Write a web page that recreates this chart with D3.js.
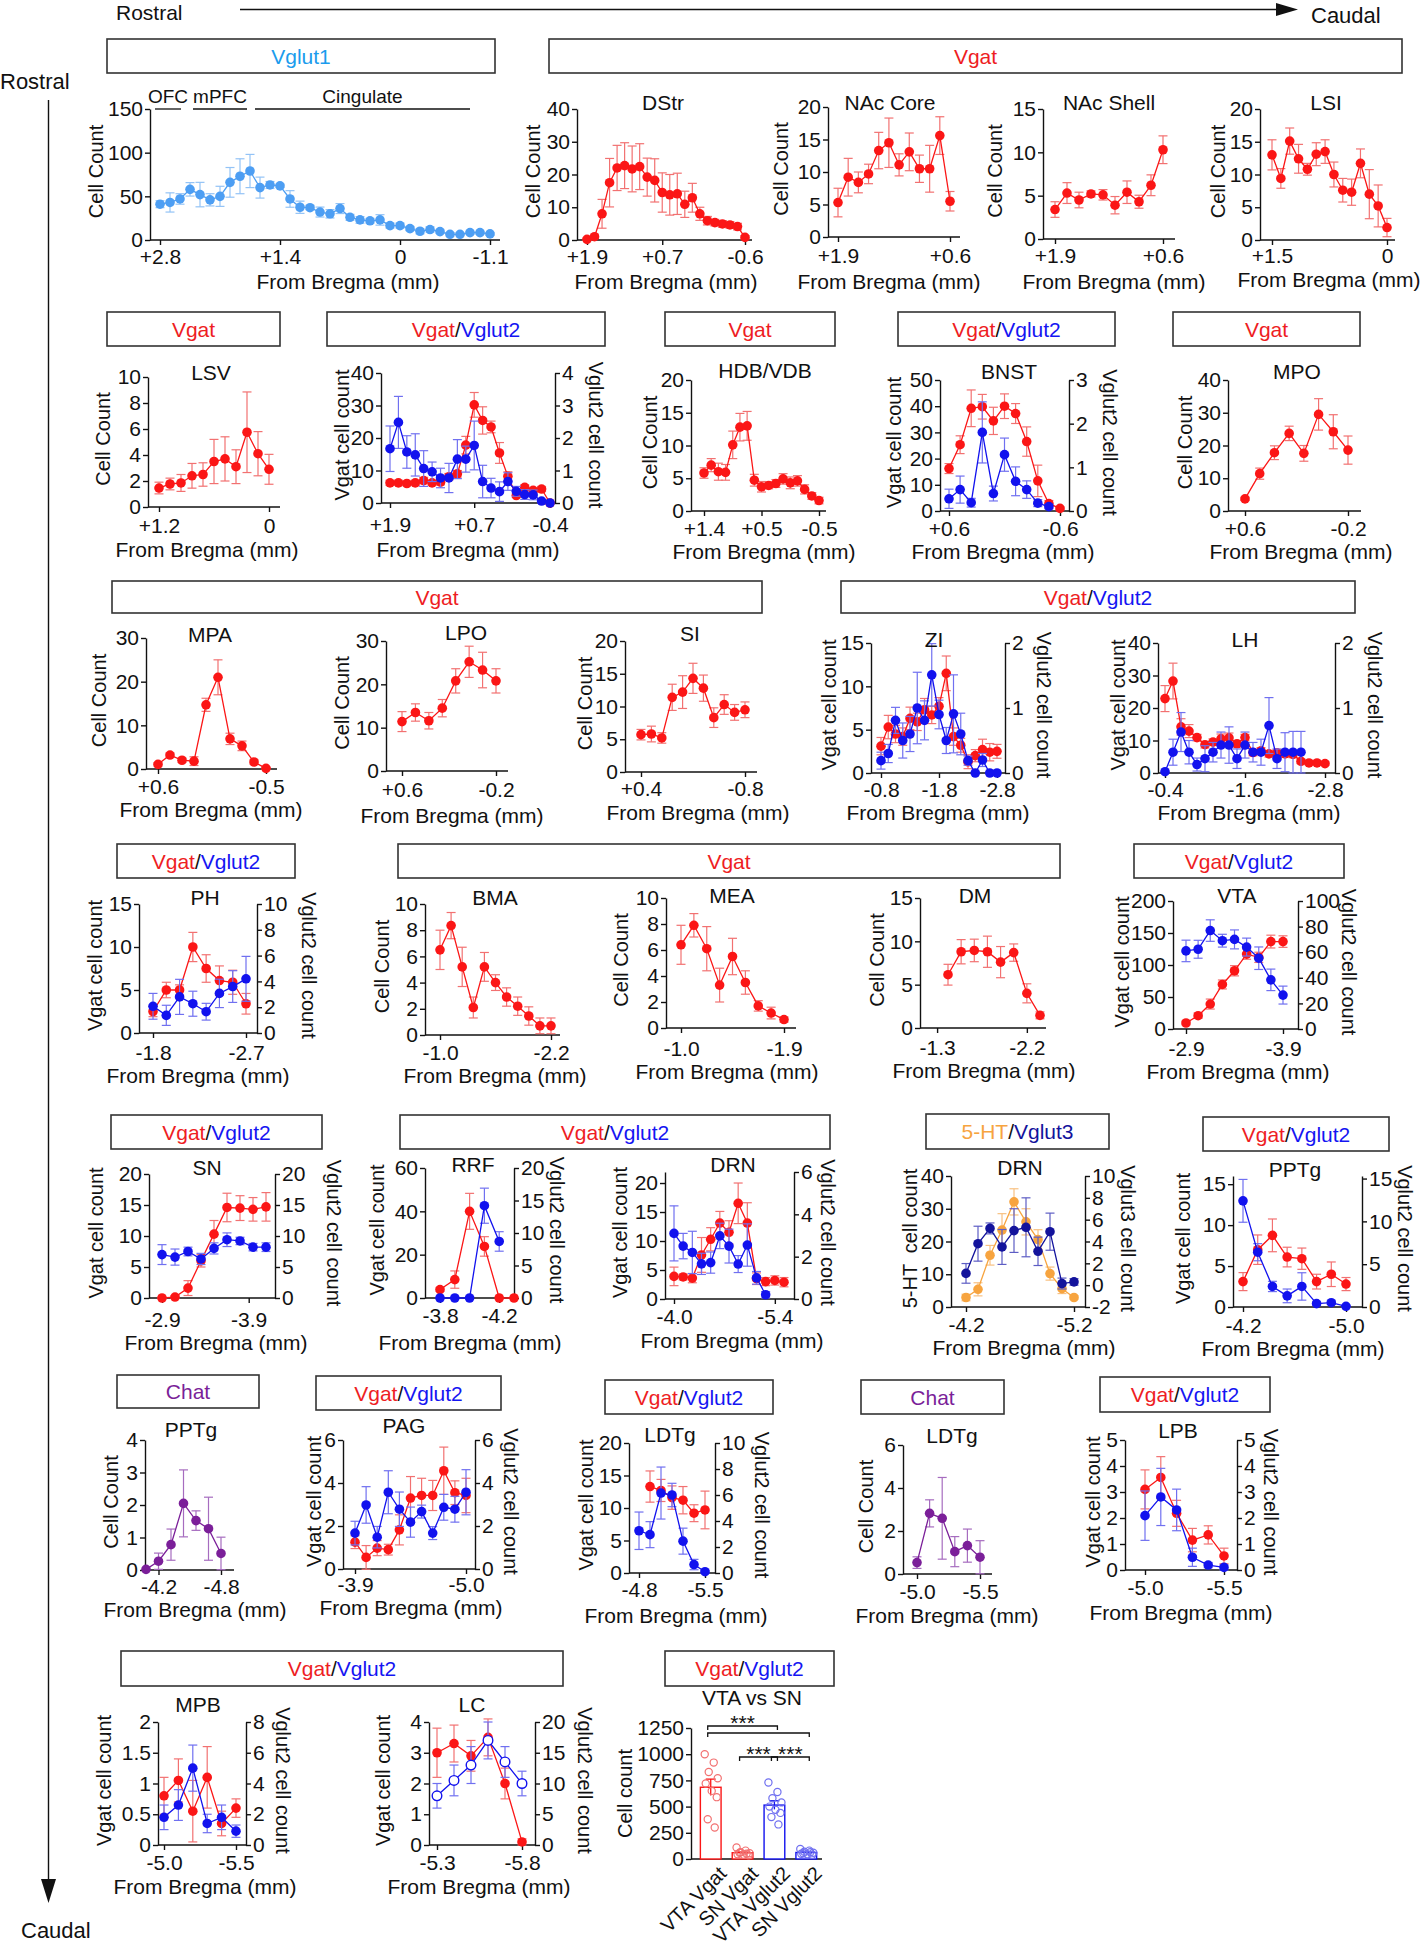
<!DOCTYPE html>
<html><head><meta charset="utf-8">
<script src="https://cdn.jsdelivr.net/npm/d3@7"></script>
<style>
body{margin:0;background:#fff}
svg{display:block}
text{font-family:"Liberation Sans",Arial,Helvetica,sans-serif;white-space:pre}
</style>
</head><body><script>
// ================= DATA (mean, SEM) =================
// Row 1
const vglut1CortexMean=[41,43,47,58,52,46,50,66,73,79,60,63,62,47,37.5,37,32,30,36,26,23,22,23,16.5,16.5,13,10,12,9.6,6.5,6.5,8.4,8.4,7];
const vglut1CortexSem=[4,11,6,7.7,14,7,11.5,17,20,19,12,4,2,9.5,7,2.3,5.7,4.8,5.7,3.4,3.8,2.8,6,2.8,2.8,2.3,2.9,3,1.9,1.9,1.5,1.5,1.5,1.5];
const vglut1Regions=[{name:"OFC",from:-0.5,to:2.1},{name:"mPFC",from:3.3,to:8.7},{name:"Cingulate",from:9.5,to:31}];
const dstrVgat=[0.2,1,8,17.5,22,22.7,21.7,22.4,19.2,18.2,14.5,13.8,14.1,10.9,12.9,8,5.9,5.3,4.9,4.6,4.1,0.8];
const dstrVgatSem=[0.3,0.5,4.4,7.4,6.9,7,7,7,5.8,6.6,6,6.2,6.3,4,4.4,2,1.3,1,1,1,1,0.5];
const nacCoreVgat=[5.3,9.2,8.4,9.7,13.3,14.5,11.1,13.1,10.5,10.5,15.6,5.5];
const nacCoreVgatSem=[2.2,2.9,1.6,1.5,2.8,3.8,1.7,2.9,2.1,3.6,2.9,1.5];
const nacShellVgat=[3.4,5.3,4.5,5.2,5.1,3.9,5.4,4.3,6.2,10.3];
const nacShellVgatSem=[0.9,1.2,0.9,0.35,0.6,1,1.3,0.75,1.2,1.6];
const lsiVgat=[13,9.4,15.1,12.4,10.8,13.1,13.5,10,7.6,7.3,11.7,7,5.2,1.9];
const lsiVgatSem=[2.3,1.5,2,2.2,0.9,1.75,1.8,1.9,1.8,2,2.2,3.75,3.2,1.4];
// Row 2
const lsvVgat=[1.46,1.77,1.85,2.4,2.5,3.5,3.7,3.1,5.75,4.1,2.9];
const lsvVgatSem=[0.45,0.45,0.65,0.95,0.9,1.7,1.7,1.3,3.1,1.7,1.15];
const lsVgat=[6.2,6.2,6,6.2,6.9,6.2,6.4,8.1,9,17.8,30.2,25.4,23.4,15.4,8.2,2.3,4.8,3.9,4.3,0];
const lsVgatSem=[0.8,0.8,0.7,0.8,1,0.8,0.8,1,1,2.7,3.8,4.2,1.8,3.2,1.4,0.6,0.8,0.7,0.8,0.3];
const lsVglut2=[1.67,2.48,1.57,1.48,1.06,0.96,0.77,0.77,1.35,1.35,1.77,0.66,0.46,0.35,0.66,0.36,0.26,0.25,0.06,0];
const lsVglut2Sem=[0.7,0.8,0.5,0.65,0.55,0.3,0.3,0.45,0.6,0.4,0.75,0.5,0.3,0.3,0.27,0.15,0.15,0.15,0.05,0];
const hdbVgat=[5.8,7.0,6.0,5.9,10.1,12.8,13.0,4.7,3.7,3.9,4.2,4.9,4.3,4.6,3.3,2.3,1.6];
const hdbVgatSem=[0.8,1,1.3,1.2,2.1,2.1,2.2,0.9,0.8,0.5,0.6,0.8,0.9,0.8,0.7,0.5,0.5];
const bnstVgat=[16.2,25.3,39.2,39.8,34.4,40,37.2,26.5,11.5,2.8,1];
const bnstVgatSem=[1.9,3.4,7,4.7,5.2,4.7,3.8,5.6,6,1.2,0.5];
const bnstVglut2=[0.28,0.49,0.19,1.8,0.4,1.29,0.68,0.49,0.18,0.1];
const bnstVglut2Sem=[0.22,0.31,0.1,0.7,0.17,0.38,0.33,0.2,0.08,0.05];
const mpoVgat=[3.7,11.4,17.8,23.7,17.6,29.5,24.2,18.6];
const mpoVgatSem=[0.5,1.7,2.1,2.2,2.4,4.8,5.2,4.3];
// Row 3
const mpaVgat=[1.07,3.2,2,1.8,14.7,21,6.9,5.3,1.6,0.15];
const mpaVgatSem=[0.4,0.5,0.5,1,1.5,4,1.3,1.1,0.5,0.2];
const lpoVgat=[11.4,13.5,11.6,14.5,20.8,25.2,23.3,20.8];
const lpoVgatSem=[2.3,2,1.9,2,2.8,3.6,4.1,2.8];
const siVgat=[5.7,5.8,5.2,11.4,12.2,14.3,12.8,8.3,10.3,9.1,9.5];
const siVgatSem=[0.8,1.2,0.8,2,2.5,2.3,2,1.5,1.5,1.2,1.2];
const ziVgat=[3.1,5.3,4.5,4.2,6.3,5.9,7.3,6.7,7.7,11.5,4.2,3.2,1.3,2,2.7,2.4,2.5];
const ziVgatSem=[1,1.35,1,1,1.3,1,1.3,1,1,2,1,0.8,0.8,0.7,1.2,1,0.8];
const ziVglut2=[0.19,0.3,0.81,0.5,0.6,1.0,0.81,1.51,0.9,0.5,0.91,0.6,0.19,0,0.2,0,0];
const ziVglut2Sem=[0.13,0.14,0.2,0.27,0.27,0.55,0.3,0.48,0.22,0.2,0.6,0.32,0.07,0,0.1,0,0];
const lhVgat=[22.9,28.3,14.2,12.9,10.9,8.7,9.5,10.5,10.8,9,10.9,6.3,6.8,5.9,6.2,5.9,5.7,3.6,3.1,3.1,2.9];
const lhVgatSem=[4,5.5,2.5,2,1,1,1,1.5,1.5,1,1,1,1,1,1,1,1,0.7,0.6,0.5,0.5];
const lhVglut2=[0.02,0.32,0.63,0.32,0.13,0.22,0.32,0.43,0.43,0.22,0.43,0.32,0.32,0.73,0.22,0.32,0.32,0.32];
const lhVglut2Sem=[0,0.2,0.3,0.18,0.1,0.2,0.15,0.2,0.28,0.15,0.2,0.15,0.2,0.43,0.15,0.3,0.32,0.32];
// Row 4
const phVgat=[2.5,5,5,10,7.5,6.1,5.9,3.4];
const phVgatSem=[0.6,0.9,0.6,1.7,1.6,1.7,1.4,1.2];
const phVglut2=[2.07,1.37,2.8,2.27,1.65,3.07,3.6,4.2];
const phVglut2Sem=[1,0.78,1.36,0.97,0.65,1.1,1.23,1.74];
const bmaVgat=[6.5,8.35,5.2,2.1,5.2,4,2.9,2.2,1.45,0.7,0.7];
const bmaVgatSem=[1.5,1,1.5,0.8,1.1,0.6,0.7,0.7,0.7,0.6,0.6];
const meaVgat=[6.4,7.9,6.1,3.3,5.5,3.5,1.7,1.15,0.65];
const meaVgatSem=[1.5,0.9,1.7,1.3,1.4,0.9,0.4,0.45,0.2];
const dmVgat=[6.15,8.8,8.95,8.8,7.6,8.7,4.0,1.46];
const dmVgatSem=[1.2,1.4,1.3,1.8,1.8,1,1.1,0.4];
const vtaVgat=[9.4,20.8,39,69.6,91,117,112,136.6,136.6];
const vtaVgatSem=[3,4,7.8,7,8,8,8,10,9];
const vtaVglut2=[61,62.3,76.9,69,70,64,55.3,38.4,26.5];
const vtaVglut2Sem=[8.4,7,8.4,5,7.4,7,8.8,8.4,7];
// Row 5
const snVgat=[0,0.15,1.6,6.0,10.3,14.6,14.5,14.3,14.7];
const snVgatSem=[0.1,0.2,1.2,1,2.2,2.3,2,1.9,2.3];
const snVglut2=[7,6.6,7.5,6.3,8,9.4,9.2,8.2,8.2];
const snVglut2Sem=[1.6,1.3,0.7,0.9,0.9,1.1,0.6,0.6,0.7];
const rrfVgat=[3.9,8.5,40,23.8,0,0];
const rrfVgatSem=[0.8,4,8.3,4.5,0,0];
const rrfVglut2=[0,0,0,14.2,8.7];
const rrfVglut2Sem=[0,0,0,2.7,1.5];
const drnVgat=[3.9,3.8,3.6,7.6,10.3,13.1,11.5,16.5,13.1,3.5,3.0,3.2,2.9];
const drnVgatSem=[1.6,0.5,0.8,3,2,2,2,3.5,3.5,1,0.7,0.8,0.8];
const drnVglut2=[3.1,2.5,2.2,1.66,1.72,2.98,2.5,1.65,2.55,1.0,0.2];
const drnVglut2Sem=[1.3,0.6,1,0.5,0.5,0.6,0.8,0.4,1,0.3,0.15];
const drn5ht=[2.9,5.4,15.8,23.5,32.1,26,20.6,10.2,5.6,2.9];
const drn5htSem=[1,2,3,5,4,4,3,2,1.5,0.5];
const drnVglut3=[1.08,3.8,5.2,3.5,5.0,5.3,3.1,4.9,0.15,0.3];
const drnVglut3Sem=[0.9,1.6,0.5,1.6,2,2.7,1.3,1.7,0.5,0.3];
const pptgVgat=[3.1,7,8.75,6.1,5.9,3.1,4,2.8];
const pptgVgatSem=[1.1,1.8,2,1.2,1.3,0.9,1.5,0.8];
const pptgVglut2=[12.4,6.4,2.4,1.3,2.4,0.4,0.5,0.08];
const pptgVglut2Sem=[2.5,1,0.6,0.8,1.6,0.2,0.2,0.1];
// Row 6
const pptgChat=[0.02,0.27,0.78,2.05,1.52,1.27,0.51];
const pptgChatSem=[0,0.25,0.48,1.03,0.3,0.97,0.5];
const pagVgat=[1.25,0.54,0.97,0.9,1.82,3.3,3.42,3.42,4.57,3.55,3.42];
const pagVgatSem=[0.3,0.55,0.35,0.25,0.7,1,0.8,0.7,1.1,0.55,0.8];
const pagVglut2=[1.67,2.98,1.48,3.57,2.78,2.18,2.67,1.67,2.87,2.78,3.57];
const pagVglut2Sem=[0.55,0.85,0.5,1,0.8,0.7,0.3,0.3,0.6,0.6,1.05];
const ldtgVgat=[null,13.3,12.7,11.6,11.2,9.2,9.7];
const ldtgVgatSem=[0,2.4,1.7,1.8,2.1,1.3,2.9];
const ldtgVglut2=[3.25,2.95,6.15,6.0,2.45,0.65,0.1];
const ldtgVglut2Sem=[1.44,1.0,2.0,0.9,1.0,0.4,0.1];
const ldtgChat=[0.53,2.82,2.59,1.04,1.32,0.78];
const ldtgChatSem=[0.27,0.63,1.9,0.7,0.77,0.77];
const lpbVgat=[3.1,3.56,2.18,1.15,1.35,0.54];
const lpbVgatSem=[0.75,0.8,0.5,0.45,0.35,0.3];
const lpbVglut2=[2.09,2.81,2.31,0.49,0.19,0.1];
const lpbVglut2Sem=[0.95,1.1,0.8,0.35,0.1,0.1];
// Row 7
const mpbVgat=[0.8,1.05,0.55,1.1,0.35,0.6];
const mpbVgatSem=[0.3,0.35,0.5,0.5,0.2,0.15];
const mpbVglut2=[1.8,2.6,5.0,1.4,1.8,0.9];
const mpbVglut2Sem=[0.8,1,1.5,0.6,0.8,0.4];
const lcVgat=[3.0,3.3,2.9,3.5,2.0,0.1];
const lcVgatSem=[0.8,0.6,0.5,0.6,0.5,0.1];
const lcVglut2=[8,10.5,13,17,13.5,10];
const lcVglut2Sem=[2,2.5,3,3,2.5,2];
// VTA vs SN individual animals
const barGroups=["VTA Vgat","SN Vgat","VTA Vglut2","SN Vglut2"];
const vtaVgatCells=[1000,920,830,770,720,650,590,380,300];
const snVgatCells=[110,80,65,55,45,40,35,60,50];
const vtaVglut2Cells=[730,640,580,540,500,470,440,400,330];
const snVglut2Cells=[95,80,70,60,50,45,40,55,65];
const barSig=[[0,2,"***"],[0,3,""],[1,2,"***"],[2,3,"***"]];

// ================= TICK LABELS =================
const vglut1TickIdx=[0,12,24,33], vglut1Ticks=["+2.8","+1.4","0","-1.1"];
const dstrTickIdx=[0,10,21], dstrTicks=["+1.9","+0.7","-0.6"];
const nacCoreTickIdx=[0,11], nacCoreTicks=["+1.9","+0.6"];
const nacShellTickIdx=[0,9], nacShellTicks=["+1.9","+0.6"];
const lsiTickIdx=[0,13], lsiTicks=["+1.5","0"];
const lsvTickIdx=[0,10], lsvTicks=["+1.2","0"];
const lsTickIdx=[0,10,19], lsTicks=["+1.9","+0.7","-0.4"];
const hdbTickIdx=[0,8,16], hdbTicks=["+1.4","+0.5","-0.5"];
const bnstTickIdx=[0,10], bnstTicks=["+0.6","-0.6"];
const mpoTickIdx=[0,7], mpoTicks=["+0.6","-0.2"];
const mpaTickIdx=[0,9], mpaTicks=["+0.6","-0.5"];
const lpoTickIdx=[0,7], lpoTicks=["+0.6","-0.2"];
const siTickIdx=[0,10], siTicks=["+0.4","-0.8"];
const ziTickIdx=[0,8,16], ziTicks=["-0.8","-1.8","-2.8"];
const lhTickIdx=[0,10,20], lhTicks=["-0.4","-1.6","-2.8"];
const phTickIdx=[0,7], phTicks=["-1.8","-2.7"];
const bmaTickIdx=[0,10], bmaTicks=["-1.0","-2.2"];
const meaTickIdx=[0,8], meaTicks=["-1.0","-1.9"];
const dmTickIdx=[-0.83,6], dmTicks=["-1.3","-2.2"];
const vtaTickIdx=[0,8], vtaTicks=["-2.9","-3.9"];
const snTickIdx=[0,6.67], snTicks=["-2.9","-3.9"];
const rrfTickIdx=[0,4], rrfTicks=["-3.8","-4.2"];
const drnTickIdx=[0,11], drnTicks=["-4.0","-5.4"];
const drn5htTickIdx=[0,9], drn5htTicks=["-4.2","-5.2"];
const pptgTickIdx=[0,7], pptgTicks=["-4.2","-5.0"];
const pptgChatTickIdx=[1,6], pptgChatTicks=["-4.2","-4.8"];
const pagTickIdx=[0,10], pagTicks=["-3.9","-5.0"];
const ldtgTickIdx=[0,6], ldtgTicks=["-4.8","-5.5"];
const ldtgChatTickIdx=[0,5], ldtgChatTicks=["-5.0","-5.5"];
const lpbTickIdx=[0,5], lpbTicks=["-5.0","-5.5"];
const mpbTickIdx=[0,5], mpbTicks=["-5.0","-5.5"];
const lcTickIdx=[0,5], lcTicks=["-5.3","-5.8"];

// ================= STYLE =================
const C={red:"#fb1616",redErr:"#f27171",blue:"#1212ee",blueErr:"#7070f0",lblue:"#4d9ef3",lblueErr:"#93c3f6",
  orange:"#f7a43f",orangeErr:"#f8c080",navy:"#13139c",navyErr:"#5d5dc4",purple:"#7b1f99",purpleErr:"#a66cbf"};
const TX={vgat:"#ee1d23",vglut2:"#1515f2",vglut1:"#1b9ced",ht:"#f7a43f",vglut3:"#13139c",chat:"#7b1f99",k:"#111"};
const FS=21, FSR=20;
const S=(vals,errs,col,axis="l",hollow=false)=>({vals,errs,color:C[col],errColor:C[col+"Err"],axis,hollow});

const svg=d3.select("body").append("svg").attr("width",1420).attr("height",1950);

function styleAxis(sel){
  sel.attr("font-size",null).attr("font-family",null);
  sel.select(".domain").attr("stroke","#111").attr("stroke-width",1.4);
  sel.selectAll(".tick line").attr("stroke","#111").attr("stroke-width",1.4);
  sel.selectAll(".tick text").attr("fill","#111").style("font-size",FS+"px");
}
function txt(x,y,s,opt={}){
  return svg.append("text").attr("x",x).attr("y",y).text(s).style("font-size",(opt.fs||FS)+"px")
    .attr("text-anchor",opt.anchor||"middle").attr("fill",opt.fill||TX.k);
}
function rotLabel(g,x,y,s,ang){
  g.append("text").attr("transform",`translate(${x},${y}) rotate(${ang})`).attr("text-anchor","middle")
    .attr("dy","0.35em").style("font-size",FSR+"px").attr("fill","#111").text(s);
}
function drawPanel(p){
  const g=svg.append("g");
  const x=d3.scaleLinear().domain([0,p.n-1]).range([p.x0,p.x1]);
  const yL=d3.scaleLinear().domain(p.yDomain).range([p.yBot,p.yTop]);
  const yR=p.rDomain?d3.scaleLinear().domain(p.rDomain).range([p.yBot,p.yTop]):null;
  const xEnd=p.rx||p.xEnd;
  g.append("line").attr("x1",p.ax).attr("x2",xEnd).attr("y1",p.yBot).attr("y2",p.yBot)
    .attr("stroke","#111").attr("stroke-width",1.4);
  const xa=g.append("g").attr("transform",`translate(0,${p.yBot})`)
    .call(d3.axisBottom(x).tickValues(p.xTicks).tickFormat((d,i)=>p.xLabels[i]).tickSize(5).tickSizeOuter(0));
  xa.select(".domain").remove(); styleAxis(xa);
  xa.selectAll(".tick text").attr("y",p.tickY-p.yBot).attr("dy",0);
  const la=g.append("g").attr("transform",`translate(${p.ax},0)`)
    .call(d3.axisLeft(yL).tickValues(p.yTicks).tickFormat(p.yFmt||(d=>String(d))).tickSize(5).tickPadding(2).tickSizeOuter(0));
  styleAxis(la);
  if(yR){
    const ra=g.append("g").attr("transform",`translate(${p.rx},0)`)
      .call(d3.axisRight(yR).tickValues(p.rTicks).tickFormat(p.rFmt||(d=>String(d))).tickSize(5).tickPadding(2).tickSizeOuter(0));
    styleAxis(ra);
  }
  const midY=(p.yTop+p.yBot)/2-3;
  if(p.title) txt(p.titleX,p.titleY,p.title);
  rotLabel(g,p.ylabX,midY,p.ylabel,-90);
  if(p.rlabel) rotLabel(g,p.rlabX,midY,p.rlabel,90);
  txt(p.xlabX,p.xlabY,"From Bregma (mm)");
  p.series.forEach(s=>{
    const y=s.axis==="r"?yR:yL;
    const pts=s.vals.map((v,i)=>({i,v,e:s.errs[i]})).filter(d=>d.v!=null);
    const eg=g.append("g").attr("stroke",s.errColor).attr("stroke-width",1.2).attr("fill","none");
    pts.filter(d=>d.e>0).forEach(d=>{
      const cx=x(d.i),lo=y(d.v-d.e),hi=y(d.v+d.e);
      eg.append("line").attr("x1",cx).attr("x2",cx).attr("y1",lo).attr("y2",hi);
      eg.append("line").attr("x1",cx-4.5).attr("x2",cx+4.5).attr("y1",lo).attr("y2",lo);
      eg.append("line").attr("x1",cx-4.5).attr("x2",cx+4.5).attr("y1",hi).attr("y2",hi);
    });
    g.append("path").datum(pts).attr("fill","none").attr("stroke",s.color).attr("stroke-width",1.3)
      .attr("d",d3.line().x(d=>x(d.i)).y(d=>y(d.v)));
    g.append("g").selectAll("circle").data(pts).join("circle").attr("cx",d=>x(d.i)).attr("cy",d=>y(d.v)).attr("r",4.8)
      .attr("fill",s.hollow?"#fff":s.color).attr("stroke",s.color).attr("stroke-width",s.hollow?1.4:0);
  });
  return {x,yL,yR};
}
function drawBox(b){
  svg.append("rect").attr("x",b[0]).attr("y",b[1]).attr("width",b[2]-b[0]).attr("height",b[3]-b[1])
    .attr("fill","none").attr("stroke","#333").attr("stroke-width",1.6);
  const t=svg.append("text").attr("x",(b[0]+b[2])/2).attr("y",(b[1]+b[3])/2).attr("dy","0.36em")
    .attr("text-anchor","middle").style("font-size",FS+"px");
  b[4].forEach(pt=>t.append("tspan").attr("fill",pt[1]).text(pt[0]));
}

// ================= GLOBAL FRAME =================
txt(116,20,"Rostral",{anchor:"start",fs:21});
svg.append("line").attr("x1",240).attr("x2",1280).attr("y1",9.5).attr("y2",9.5).attr("stroke","#111").attr("stroke-width",1.4);
svg.append("path").attr("d","M1276,3L1298,9.5L1276,16Z").attr("fill","#111");
txt(1311,23,"Caudal",{anchor:"start",fs:22});
txt(0,89,"Rostral",{anchor:"start",fs:22});
svg.append("line").attr("x1",48.5).attr("x2",48.5).attr("y1",100).attr("y2",1882).attr("stroke","#111").attr("stroke-width",1.4);
svg.append("path").attr("d","M41,1879L56,1879L48.5,1903Z").attr("fill","#111");
txt(21,1938,"Caudal",{anchor:"start",fs:22});

const VG=["Vgat",TX.vgat], SL=["/",TX.k], V2=["Vglut2",TX.vglut2];
const boxes=[
 [107,39,495,73,[["Vglut1",TX.vglut1]]],[549,39,1402,73,[VG]],
 [107,312,280,346,[VG]],[327,312,605,346,[VG,SL,V2]],[665,312,835,346,[VG]],[898,312,1115,346,[VG,SL,V2]],[1173,312,1360,346,[VG]],
 [112,581,762,613,[VG]],[841,581,1355,613,[VG,SL,V2]],
 [117,844,295,878,[VG,SL,V2]],[398,844,1060,878,[VG]],[1134,844,1344,878,[VG,SL,V2]],
 [111,1115,322,1149,[VG,SL,V2]],[400,1115,830,1149,[VG,SL,V2]],[926,1114,1109,1149,[["5-HT",TX.ht],SL,["Vglut3",TX.vglut3]]],[1203,1117,1389,1151,[VG,SL,V2]],
 [117,1375,259,1408,[["Chat",TX.chat]]],[316,1376,501,1410,[VG,SL,V2]],[605,1380,773,1414,[VG,SL,V2]],[861,1380,1004,1414,[["Chat",TX.chat]]],[1100,1377,1270,1412,[VG,SL,V2]],
 [121,1651,563,1686,[VG,SL,V2]],[665,1651,834,1686,[VG,SL,V2]]
];
boxes.forEach(drawBox);

const T5=(a,b,s)=>d3.range(a,b+0.001,s);
const panels=[
 // Row 1
 {ax:150,yTop:109,yBot:240,yDomain:[0,150],yTicks:[0,50,100,150],n:34,x0:160,x1:490,xEnd:500,xTicks:vglut1TickIdx,xLabels:vglut1Ticks,tickY:264,xlabX:348,xlabY:289,ylabel:"Cell Count",ylabX:96,series:[S(vglut1CortexMean,vglut1CortexSem,"lblue")]},
 {ax:577,yTop:109,yBot:240,yDomain:[0,40],yTicks:T5(0,40,10),n:22,x0:587,x1:745,xEnd:752,xTicks:dstrTickIdx,xLabels:dstrTicks,tickY:264,xlabX:666,xlabY:289,ylabel:"Cell Count",ylabX:533,title:"DStr",titleX:663,titleY:110,series:[S(dstrVgat,dstrVgatSem,"red")]},
 {ax:828,yTop:107,yBot:237,yDomain:[0,20],yTicks:T5(0,20,5),n:12,x0:838,x1:950,xEnd:960,xTicks:nacCoreTickIdx,xLabels:nacCoreTicks,tickY:263,xlabX:889,xlabY:289,ylabel:"Cell Count",ylabX:781,title:"NAc Core",titleX:890,titleY:110,series:[S(nacCoreVgat,nacCoreVgatSem,"red")]},
 {ax:1043,yTop:109,yBot:239,yDomain:[0,15],yTicks:T5(0,15,5),n:10,x0:1055,x1:1163,xEnd:1175,xTicks:nacShellTickIdx,xLabels:nacShellTicks,tickY:263,xlabX:1114,xlabY:289,ylabel:"Cell Count",ylabX:995,title:"NAc Shell",titleX:1109,titleY:110,series:[S(nacShellVgat,nacShellVgatSem,"red")]},
 {ax:1260,yTop:109,yBot:240,yDomain:[0,20],yTicks:T5(0,20,5),n:14,x0:1272,x1:1387,xEnd:1395,xTicks:lsiTickIdx,xLabels:lsiTicks,tickY:263,xlabX:1329,xlabY:287,ylabel:"Cell Count",ylabX:1218,title:"LSI",titleX:1326,titleY:110,series:[S(lsiVgat,lsiVgatSem,"red")]},
 // Row 2
 {ax:148,yTop:377,yBot:507,yDomain:[0,10],yTicks:T5(0,10,2),n:11,x0:159,x1:269,xEnd:280,xTicks:lsvTickIdx,xLabels:lsvTicks,tickY:533,xlabX:207,xlabY:557,ylabel:"Cell Count",ylabX:103,title:"LSV",titleX:211,titleY:380,series:[S(lsvVgat,lsvVgatSem,"red")]},
 {ax:381,rx:555,yTop:373,yBot:503,yDomain:[0,40],yTicks:T5(0,40,10),rDomain:[0,4],rTicks:T5(0,4,1),n:20,x0:390,x1:550,xTicks:lsTickIdx,xLabels:lsTicks,tickY:532,xlabX:468,xlabY:557,ylabel:"Vgat cell count",ylabX:342,rlabel:"Vglut2 cell count",rlabX:596,series:[S(lsVgat,lsVgatSem,"red"),S(lsVglut2,lsVglut2Sem,"blue","r")]},
 {ax:691,yTop:380,yBot:511,yDomain:[0,20],yTicks:T5(0,20,5),n:17,x0:704,x1:819,xEnd:826,xTicks:hdbTickIdx,xLabels:hdbTicks,tickY:536,xlabX:764,xlabY:559,ylabel:"Cell Count",ylabX:650,title:"HDB/VDB",titleX:765,titleY:378,series:[S(hdbVgat,hdbVgatSem,"red")]},
 {ax:940,rx:1069,yTop:380,yBot:511,yDomain:[0,50],yTicks:T5(0,50,10),rDomain:[0,3],rTicks:T5(0,3,1),n:11,x0:949,x1:1060,xTicks:bnstTickIdx,xLabels:bnstTicks,tickY:536,xlabX:1003,xlabY:559,ylabel:"Vgat cell count",ylabX:894,rlabel:"Vglut2 cell count",rlabX:1110,title:"BNST",titleX:1009,titleY:379,series:[S(bnstVgat,bnstVgatSem,"red"),S(bnstVglut2,bnstVglut2Sem,"blue","r")]},
 {ax:1228,yTop:380,yBot:511,yDomain:[0,40],yTicks:T5(0,40,10),n:8,x0:1245,x1:1348,xEnd:1361,xTicks:mpoTickIdx,xLabels:mpoTicks,tickY:536,xlabX:1301,xlabY:559,ylabel:"Cell Count",ylabX:1185,title:"MPO",titleX:1297,titleY:379,series:[S(mpoVgat,mpoVgatSem,"red")]},
 // Row 3
 {ax:146,yTop:638,yBot:769,yDomain:[0,30],yTicks:T5(0,30,10),n:10,x0:158,x1:266,xEnd:277,xTicks:mpaTickIdx,xLabels:mpaTicks,tickY:794,xlabX:211,xlabY:817,ylabel:"Cell Count",ylabX:99,title:"MPA",titleX:210,titleY:642,series:[S(mpaVgat,mpaVgatSem,"red")]},
 {ax:386,yTop:641,yBot:771,yDomain:[0,30],yTicks:T5(0,30,10),n:8,x0:402,x1:496,xEnd:508,xTicks:lpoTickIdx,xLabels:lpoTicks,tickY:797,xlabX:452,xlabY:823,ylabel:"Cell Count",ylabX:342,title:"LPO",titleX:466,titleY:640,series:[S(lpoVgat,lpoVgatSem,"red")]},
 {ax:625,yTop:641,yBot:772,yDomain:[0,20],yTicks:T5(0,20,5),n:11,x0:641,x1:745,xEnd:757,xTicks:siTickIdx,xLabels:siTicks,tickY:796,xlabX:698,xlabY:820,ylabel:"Cell Count",ylabX:585,title:"SI",titleX:690,titleY:641,series:[S(siVgat,siVgatSem,"red")]},
 {ax:871,rx:1005,yTop:643,yBot:773,yDomain:[0,15],yTicks:T5(0,15,5),rDomain:[0,2],rTicks:T5(0,2,1),n:17,x0:881,x1:997,xTicks:ziTickIdx,xLabels:ziTicks,tickY:797,xlabX:938,xlabY:820,ylabel:"Vgat cell count",ylabX:829,rlabel:"Vglut2 cell count",rlabX:1044,title:"ZI",titleX:934,titleY:647,series:[S(ziVgat,ziVgatSem,"red"),S(ziVglut2,ziVglut2Sem,"blue","r")]},
 {ax:1158,rx:1335,yTop:643,yBot:773,yDomain:[0,40],yTicks:T5(0,40,10),rDomain:[0,2],rTicks:T5(0,2,1),n:21,x0:1165,x1:1325,xTicks:lhTickIdx,xLabels:lhTicks,tickY:797,xlabX:1249,xlabY:820,ylabel:"Vgat cell count",ylabX:1118,rlabel:"Vglut2 cell count",rlabX:1375,title:"LH",titleX:1245,titleY:647,series:[S(lhVgat,lhVgatSem,"red"),S(lhVglut2,lhVglut2Sem,"blue","r")]},
 // Row 4
 {ax:139,rx:257,yTop:904,yBot:1033,yDomain:[0,15],yTicks:T5(0,15,5),rDomain:[0,10],rTicks:T5(0,10,2),n:8,x0:153,x1:246,xTicks:phTickIdx,xLabels:phTicks,tickY:1060,xlabX:198,xlabY:1083,ylabel:"Vgat cell count",ylabX:95,rlabel:"Vglut2 cell count",rlabX:309,title:"PH",titleX:205,titleY:905,series:[S(phVgat,phVgatSem,"red"),S(phVglut2,phVglut2Sem,"blue","r")]},
 {ax:425,yTop:904,yBot:1035,yDomain:[0,10],yTicks:T5(0,10,2),n:11,x0:440,x1:551,xEnd:560,xTicks:bmaTickIdx,xLabels:bmaTicks,tickY:1060,xlabX:495,xlabY:1083,ylabel:"Cell Count",ylabX:382,title:"BMA",titleX:495,titleY:905,series:[S(bmaVgat,bmaVgatSem,"red")]},
 {ax:666,yTop:898,yBot:1028,yDomain:[0,10],yTicks:T5(0,10,2),n:9,x0:681,x1:784,xEnd:796,xTicks:meaTickIdx,xLabels:meaTicks,tickY:1056,xlabX:727,xlabY:1079,ylabel:"Cell Count",ylabX:621,title:"MEA",titleX:732,titleY:903,series:[S(meaVgat,meaVgatSem,"red")]},
 {ax:920,yTop:898,yBot:1028,yDomain:[0,15],yTicks:T5(0,15,5),n:8,x0:948,x1:1040,xEnd:1046,xTicks:dmTickIdx,xLabels:dmTicks,tickY:1055,xlabX:984,xlabY:1078,ylabel:"Cell Count",ylabX:877,title:"DM",titleX:975,titleY:903,series:[S(dmVgat,dmVgatSem,"red")]},
 {ax:1173,rx:1298,yTop:901,yBot:1029,yDomain:[0,200],yTicks:T5(0,200,50),rDomain:[0,100],rTicks:T5(0,100,20),n:9,x0:1186,x1:1283,xTicks:vtaTickIdx,xLabels:vtaTicks,tickY:1056,xlabX:1238,xlabY:1079,ylabel:"Vgat cell count",ylabX:1122,rlabel:"Vglut2 cell count",rlabX:1349,title:"VTA",titleX:1237,titleY:903,series:[S(vtaVgat,vtaVgatSem,"red"),S(vtaVglut2,vtaVglut2Sem,"blue","r")]},
 // Row 5
 {ax:149,rx:275,yTop:1174,yBot:1298,yDomain:[0,20],yTicks:T5(0,20,5),rDomain:[0,20],rTicks:T5(0,20,5),n:9,x0:162,x1:266,xTicks:snTickIdx,xLabels:snTicks,tickY:1327,xlabX:216,xlabY:1350,ylabel:"Vgat cell count",ylabX:96,rlabel:"Vglut2 cell count",rlabX:334,title:"SN",titleX:207,titleY:1175,series:[S(snVgat,snVgatSem,"red"),S(snVglut2,snVglut2Sem,"blue","r")]},
 {ax:425,rx:514,yTop:1168,yBot:1298,yDomain:[0,60],yTicks:T5(0,60,20),rDomain:[0,20],rTicks:T5(0,20,5),n:6,x0:440,x1:514,xTicks:rrfTickIdx,xLabels:rrfTicks,tickY:1323,xlabX:470,xlabY:1350,ylabel:"Vgat cell count",ylabX:377,rlabel:"Vglut2 cell count",rlabX:557,title:"RRF",titleX:473,titleY:1172,series:[S(rrfVgat,rrfVgatSem,"red"),S(rrfVglut2,rrfVglut2Sem,"blue","r")]},
 {ax:665,rx:794,yTop:1172,yBot:1299,yDomain:[0,21.9],yTicks:T5(0,20,5),rDomain:[0,6],rTicks:T5(0,6,2),n:13,x0:674,x1:784,xTicks:drnTickIdx,xLabels:drnTicks,tickY:1324,xlabX:732,xlabY:1348,ylabel:"Vgat cell count",ylabX:620,rlabel:"Vglut2 cell count",rlabX:828,title:"DRN",titleX:733,titleY:1172,series:[S(drnVgat,drnVgatSem,"red"),S(drnVglut2,drnVglut2Sem,"blue","r")]},
 {ax:951,rx:1085,yTop:1176,yBot:1307,yDomain:[0,40],yTicks:T5(0,40,10),rDomain:[-2,10],rTicks:T5(-2,10,2),n:10,x0:966,x1:1074,xTicks:drn5htTickIdx,xLabels:drn5htTicks,tickY:1332,xlabX:1024,xlabY:1355,ylabel:"5-HT  cell count",ylabX:910,rlabel:"Vglut3 cell count",rlabX:1128,title:"DRN",titleX:1020,titleY:1175,series:[S(drn5ht,drn5htSem,"orange"),S(drnVglut3,drnVglut3Sem,"navy","r")]},
 {ax:1233,rx:1362,yTop:1176,yBot:1307,yDomain:[0,16],yTicks:T5(0,15,5),rDomain:[0,15.3],rTicks:T5(0,15,5),n:8,x0:1243,x1:1346,xTicks:pptgTickIdx,xLabels:pptgTicks,tickY:1333,xlabX:1293,xlabY:1356,ylabel:"Vgat cell count",ylabX:1183,rlabel:"Vglut2 cell count",rlabX:1405,title:"PPTg",titleX:1295,titleY:1177,series:[S(pptgVgat,pptgVgatSem,"red"),S(pptgVglut2,pptgVglut2Sem,"blue","r")]},
 // Row 6
 {ax:145,yTop:1440,yBot:1570,yDomain:[0,4],yTicks:T5(0,4,1),n:7,x0:146,x1:221,xEnd:234,xTicks:pptgChatTickIdx,xLabels:pptgChatTicks,tickY:1594,xlabX:195,xlabY:1617,ylabel:"Cell Count",ylabX:111,title:"PPTg",titleX:191,titleY:1437,series:[S(pptgChat,pptgChatSem,"purple")]},
 {ax:343,rx:475,yTop:1440,yBot:1569,yDomain:[0,6],yTicks:T5(0,6,2),rDomain:[0,6],rTicks:T5(0,6,2),n:11,x0:355,x1:466,xTicks:pagTickIdx,xLabels:pagTicks,tickY:1592,xlabX:411,xlabY:1615,ylabel:"Vgat cell count",ylabX:314,rlabel:"Vglut2 cell count",rlabX:511,title:"PAG",titleX:404,titleY:1433,series:[S(pagVgat,pagVgatSem,"red"),S(pagVglut2,pagVglut2Sem,"blue","r")]},
 {ax:629,rx:715,yTop:1443,yBot:1573,yDomain:[0,20],yTicks:T5(0,20,5),rDomain:[0,10],rTicks:T5(0,10,2),n:7,x0:639,x1:705,xTicks:ldtgTickIdx,xLabels:ldtgTicks,tickY:1597,xlabX:676,xlabY:1623,ylabel:"Vgat cell count",ylabX:586,rlabel:"Vglut2 cell count",rlabX:762,title:"LDTg",titleX:670,titleY:1442,series:[S(ldtgVgat,ldtgVgatSem,"red"),S(ldtgVglut2,ldtgVglut2Sem,"blue","r")]},
 {ax:903,yTop:1445,yBot:1574,yDomain:[0,6],yTicks:T5(0,6,2),n:6,x0:917,x1:980,xEnd:992,xTicks:ldtgChatTickIdx,xLabels:ldtgChatTicks,tickY:1599,xlabX:947,xlabY:1623,ylabel:"Cell Count",ylabX:866,title:"LDTg",titleX:952,titleY:1443,series:[S(ldtgChat,ldtgChatSem,"purple")]},
 {ax:1125,rx:1237,yTop:1440,yBot:1570,yDomain:[0,5],yTicks:T5(0,5,1),rDomain:[0,5],rTicks:T5(0,5,1),n:6,x0:1145,x1:1224,xTicks:lpbTickIdx,xLabels:lpbTicks,tickY:1595,xlabX:1181,xlabY:1620,ylabel:"Vgat cell count",ylabX:1093,rlabel:"Vglut2 cell count",rlabX:1271,title:"LPB",titleX:1178,titleY:1438,series:[S(lpbVgat,lpbVgatSem,"red"),S(lpbVglut2,lpbVglut2Sem,"blue","r")]},
 // Row 7
 {ax:158,rx:246,yTop:1722,yBot:1845,yDomain:[0,2],yTicks:T5(0,2,0.5),yFmt:d3.format(".1~f"),rDomain:[0,8],rTicks:T5(0,8,2),n:6,x0:164,x1:236,xTicks:mpbTickIdx,xLabels:mpbTicks,tickY:1870,xlabX:205,xlabY:1894,ylabel:"Vgat cell count",ylabX:104,rlabel:"Vglut2 cell count",rlabX:283,title:"MPB",titleX:198,titleY:1712,series:[S(mpbVgat,mpbVgatSem,"red"),S(mpbVglut2,mpbVglut2Sem,"blue","r")]},
 {ax:429,rx:535,yTop:1722,yBot:1845,yDomain:[0,4],yTicks:T5(0,4,1),rDomain:[0,20],rTicks:T5(0,20,5),n:6,x0:437,x1:522,xTicks:lcTickIdx,xLabels:lcTicks,tickY:1870,xlabX:479,xlabY:1894,ylabel:"Vgat cell count",ylabX:383,rlabel:"Vglut2 cell count",rlabX:585,title:"LC",titleX:472,titleY:1712,series:[S(lcVgat,lcVgatSem,"red"),S(lcVglut2,lcVglut2Sem,"blue","r",true)]}
];
const drawn=panels.map(drawPanel);

// Vglut1 region annotation
(function(){
  const x=drawn[0].x;
  vglut1Regions.forEach(r=>{
    svg.append("line").attr("x1",x(r.from)).attr("x2",x(r.to)).attr("y1",109).attr("y2",109).attr("stroke","#111").attr("stroke-width",1.3);
    txt((x(r.from)+x(r.to))/2,103,r.name,{fs:19});
  });
})();

// ================= VTA vs SN bar chart =================
(function(){
  const ax=691,yTop=1728,yBot=1859,xEnd=822;
  const cells=[vtaVgatCells,snVgatCells,vtaVglut2Cells,snVglut2Cells];
  const cols=["red","red","blue","blue"];
  const jitter=[-6,3,-2,7,-5,1,6,-3,4];
  const sigY=[1726,1733,1757,1757];
  const x=d3.scaleBand().domain(barGroups).range([ax+3,xEnd+1]).paddingInner(0.35).paddingOuter(0.2);
  const y=d3.scaleLinear().domain([0,1250]).range([yBot,yTop]);
  const g=svg.append("g");
  const la=g.append("g").attr("transform",`translate(${ax},0)`)
    .call(d3.axisLeft(y).tickValues([0,250,500,750,1000,1250]).tickFormat(d3.format("d")).tickSize(5).tickPadding(2).tickSizeOuter(0));
  styleAxis(la);
  g.append("line").attr("x1",ax).attr("x2",xEnd).attr("y1",yBot).attr("y2",yBot).attr("stroke","#111").attr("stroke-width",1.4);
  barGroups.forEach((k,i)=>{
    const vals=cells[i], m=d3.mean(vals), sem=d3.deviation(vals)/Math.sqrt(vals.length);
    const cx=x(k)+x.bandwidth()/2, col=C[cols[i]];
    g.append("rect").attr("x",x(k)).attr("y",y(m)).attr("width",x.bandwidth()).attr("height",yBot-y(m))
      .attr("fill","#fff").attr("stroke",col).attr("stroke-width",1.4);
    g.append("line").attr("x1",cx).attr("x2",cx).attr("y1",y(m-sem)).attr("y2",y(m+sem)).attr("stroke",col).attr("stroke-width",1.3);
    g.append("line").attr("x1",cx-5).attr("x2",cx+5).attr("y1",y(m+sem)).attr("y2",y(m+sem)).attr("stroke",col).attr("stroke-width",1.3);
    g.append("g").selectAll("circle").data(vals).join("circle").attr("cx",(d,j)=>cx+jitter[j]).attr("cy",d=>y(d)).attr("r",3.6)
      .attr("fill","none").attr("stroke",C[cols[i]+"Err"]).attr("stroke-width",1.2);
    g.append("text").attr("transform",`translate(${cx+7},${yBot+6}) rotate(-45)`).attr("text-anchor","end").attr("dy","0.7em")
      .style("font-size","20px").attr("fill","#111").text(k);
  });
  barSig.forEach((s,i)=>{
    const xa=x(barGroups[s[0]])+x.bandwidth()/2-3, xb=x(barGroups[s[1]])+x.bandwidth()/2+3, yy=sigY[i];
    g.append("path").attr("d",`M${xa},${yy+4}V${yy}H${xb}V${yy+4}`).attr("fill","none").attr("stroke","#111").attr("stroke-width",1.3);
    if(s[2]) txt((xa+xb)/2,yy+4,s[2]);
  });
  txt(752,1705,"VTA vs SN");
  rotLabel(g,625,(yTop+yBot)/2,"Cell count",-90);
})();
</script></body></html>
